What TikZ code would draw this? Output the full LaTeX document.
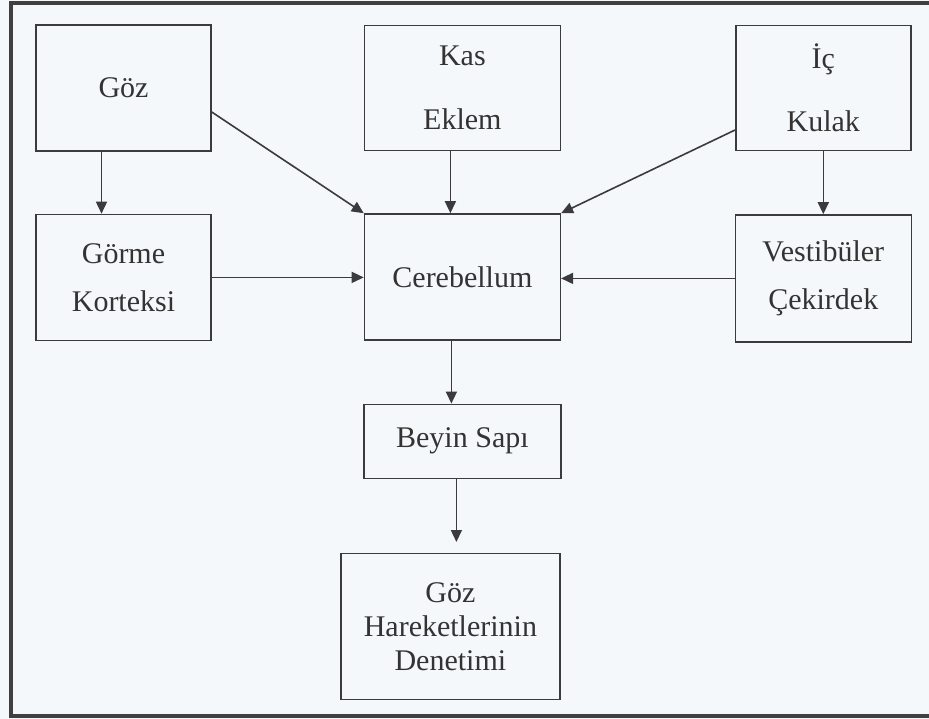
\documentclass[tikz,border=0pt]{standalone}
\usepackage{fontspec}
\setmainfont{Liberation Serif}
\usetikzlibrary{arrows.meta,positioning}
\definecolor{paper}{RGB}{245,248,250}
\definecolor{ink}{RGB}{58,58,64}

\begin{document}
\begin{tikzpicture}[x=1pt, y=-1pt, ink, line width=1.6pt,
    >={Triangle[length=12pt,width=11pt]},
    every node/.style={draw, line width=1.4pt, align=center, text=black!80,
      font=\fontsize{30}{34}\selectfont} ]
    \useasboundingbox (0,0) rectangle (929,719);
    \fill[paper] (0,0) rectangle (929,719);
    \draw[line width=3.5pt, black!75] (929,3) -- (11,3) -- (11,716) -- (929,716);

    \node[minimum width=175pt, minimum height=126pt] (goz) at (123.5,88) {Göz};
    \node[minimum width=196pt, minimum height=125pt, right=152pt of goz] (kas) {Kas\\[30pt]Eklem};
    \node[minimum width=175pt, minimum height=125pt, right=174pt of kas] (ic) {İç\\[29pt]Kulak};
    \node[minimum width=175pt, minimum height=126pt, below=62pt of goz] (gorme) {Görme\\[14pt]Korteksi};
    \node[minimum width=196pt, minimum height=126pt, below=62pt of kas] (cereb) {Cerebellum};
    \node[minimum width=176pt, minimum height=127pt, below=63pt of ic] (vest) {Vestibüler\\[14pt]Çekirdek};
    \node[minimum width=197pt, minimum height=74pt, below=63pt of cereb] (beyin) {Beyin Sapı};
    \node[minimum width=219pt, minimum height=146pt, below=74pt of beyin, xshift=-12pt] (denet) {Göz\\Hareketlerinin\\Denetimi};

    \draw[->] ([xshift=-22pt]goz.south) to ([xshift=-22pt]gorme.north);
    \draw[->] ([xshift=-12pt]kas.south) to ([xshift=-12pt]cereb.north);
    \draw[->] (ic) to (vest);

    \draw[->] ([yshift=-24pt]goz.east) to (cereb.north west);
    \draw[->] ([yshift=-42pt]ic.west) to (cereb.north east);

    \draw[->] (gorme) to (gorme -| cereb.west);
    \draw[->] (vest) to (vest -| cereb.east);

    \draw[->] ([xshift=-11pt]cereb.south) to ([xshift=-11pt]beyin.north);
    \draw[->] ([xshift=-6pt]beyin.south) to ([xshift=6pt,yshift=11pt]denet.north);

\end{tikzpicture}
\end{document}
